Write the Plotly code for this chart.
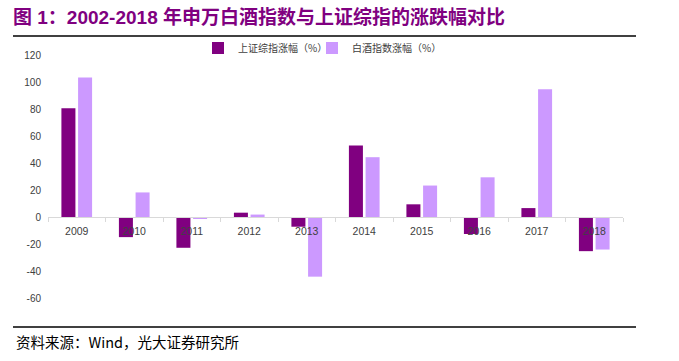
import plotly.graph_objects as go

years = ["2009", "2010", "2011", "2012", "2013", "2014", "2015", "2016", "2017", "2018"]
sh_index = [80.5, -14.9, -22.8, 3.2, -7.2, 52.9, 9.4, -12.6, 6.6, -25.3]
baijiu_index = [103.3, 18.2, -1.0, 1.8, -44.2, 44.3, 23.3, 29.4, 94.6, -24.1]
series_names = ["上证综指涨幅（%）", "白酒指数涨幅（%）"]
y_ticks = [120, 100, 80, 60, 40, 20, 0, -20, -40, -60]

W, H = 679, 361
ML, MR, MT, MB = 48, 56, 55, 63
PW, PH = W - ML - MR, H - MT - MB

def px_x(p):
    return (p - ML) / PW

def px_y(p):
    return (H - MB - p) / PH

fig = go.Figure()
fig.add_trace(go.Bar(x=years, y=sh_index, name=series_names[0], legend="legend",
                     showlegend=True,
                     marker=dict(color="#800080", line=dict(width=0))))
fig.add_trace(go.Bar(x=years, y=baijiu_index, name=series_names[1], legend="legend2",
                     showlegend=True,
                     marker=dict(color="#CC99FF", line=dict(width=0))))

ymin, ymax = -60, 120
zero_pos = (0 - ymin) / (ymax - ymin)

legend_style = dict(
    orientation="h", xanchor="left", y=px_y(48), yanchor="middle",
    font=dict(family="Noto Sans CJK SC", size=10, color="#404040"),
    itemwidth=30, bgcolor="rgba(0,0,0,0)",
)

fig.update_layout(
    width=W, height=H, showlegend=True,
    margin=dict(l=ML, r=MR, t=MT, b=MB, autoexpand=False),
    paper_bgcolor="white", plot_bgcolor="white",
    barmode="group", bargap=0.42, bargroupgap=0.16,
    font=dict(family="Liberation Sans, Arial, Noto Sans CJK SC", size=10, color="#404040"),
    title=dict(
        text="<b>图 1：2002-2018 年申万白酒指数与上证综指的涨跌幅对比</b>",
        font=dict(family="Liberation Sans, Noto Sans CJK SC", size=19, color="#800080"),
        xref="container", yref="container", x=13 / W, xanchor="left",
        y=1 - 17 / H, yanchor="middle",
    ),
    xaxis=dict(
        type="category", anchor="free", position=zero_pos,
        showline=True, linecolor="#D9D9D9", linewidth=1,
        ticks="outside", tickson="boundaries", ticklen=4, tickcolor="#D9D9D9",
        ticklabelstandoff=4,
        showgrid=False, zeroline=False,
        tickfont=dict(size=10.5, color="#404040"),
    ),
    yaxis=dict(
        range=[ymin, ymax], tickvals=y_ticks, ticktext=[str(v) for v in y_ticks],
        showgrid=False, zeroline=False, showline=False, ticks="",
        ticklabelstandoff=6,
        tickfont=dict(size=10, color="#404040"),
    ),
    legend=dict(x=px_x(198), **legend_style),
    legend2=dict(x=px_x(312), **legend_style),
    shapes=[
        dict(type="line", xref="paper", yref="paper", x0=px_x(13), x1=px_x(636),
             y0=px_y(36), y1=px_y(36), line=dict(color="black", width=1.5)),
        dict(type="line", xref="paper", yref="paper", x0=px_x(13), x1=px_x(636),
             y0=px_y(327), y1=px_y(327), line=dict(color="black", width=1.5)),
    ],
    annotations=[
        dict(text="资料来源：Wind，光大证券研究所", xref="paper", yref="paper",
             x=px_x(14), y=px_y(341), xanchor="left", yanchor="middle", showarrow=False,
             font=dict(family="Noto Sans CJK SC", size=14.5, color="black")),
    ],
)

fig.write_html("out.html", config={"displayModeBar": False},
               post_script="document.body.style.margin='0';")
